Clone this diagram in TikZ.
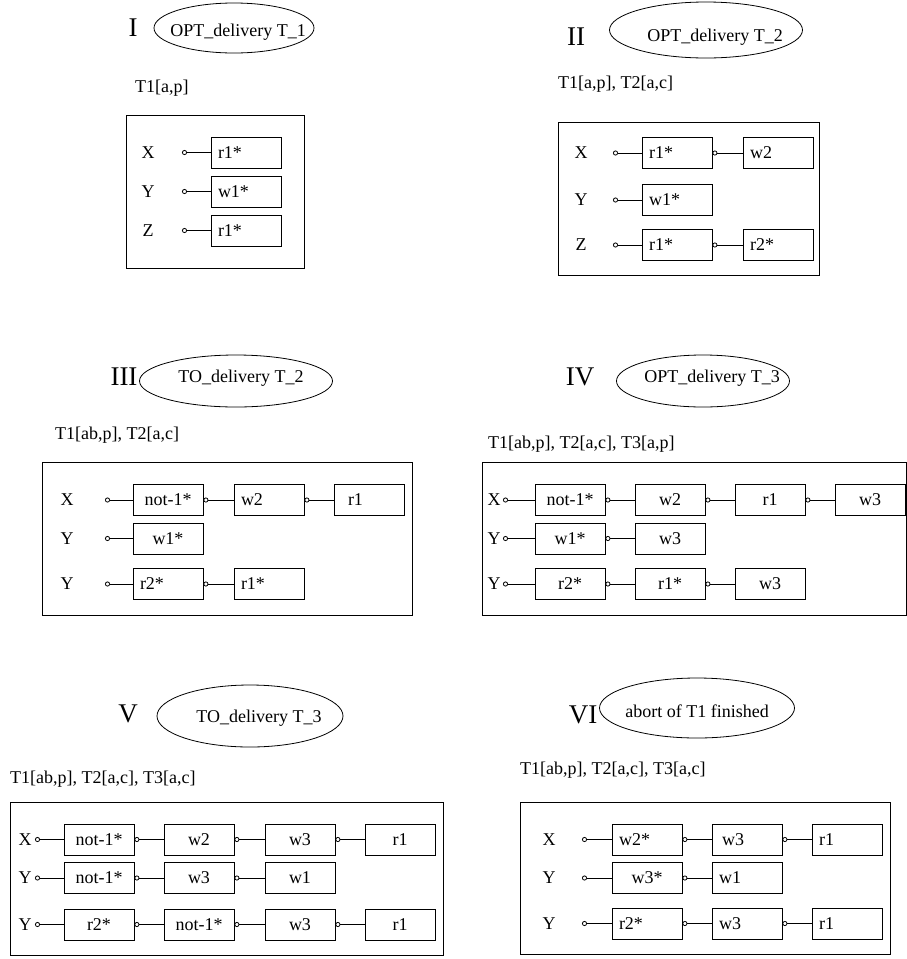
\documentclass[tikz,border=0pt]{standalone}
\usepackage{fontspec}
\setmainfont{Liberation Serif}
\usetikzlibrary{arrows.meta,shapes.geometric}

\tikzset{
  op/.style={draw, line width=0.8pt, minimum width=70pt, minimum height=31pt, inner sep=0pt},
  opl/.style={op, text width=56pt, align=left},
  link/.style={{Circle[open,length=5pt,width=5pt]}-, line width=0.8pt},
  state/.style={draw, ellipse, line width=0.8pt, inner sep=0pt},
  num/.style={font=\fontsize{27}{30}\selectfont},
  hdr/.style={anchor=west, inner sep=0pt},
  frame/.style={line width=0.8pt}
}

\begin{document}
\begin{tikzpicture}[x=1pt, y=-1pt, font=\fontsize{18}{20}\selectfont]
        \useasboundingbox (0,0) rectangle (906,959);

        % I
        \node[num] (n1) at (133,28) {I};
        \node[state, minimum width=160pt, minimum height=50pt] (e1) at (234,28) {};
        \node (t1) at (238,32) {OPT\_delivery T\_1};
        \node[hdr] (h1) at (135,88) {T1[a,p]};
        \draw[frame] (126,115) rectangle (304,268);

        \node (l11) at (148,152.5) {X};
        \node (l12) at (148,191.5) {Y};
        \node (l13) at (148,230.5) {Z};
        \coordinate (s11) at (182,152.5);
        \coordinate (s12) at (182,191.5);
        \coordinate (s13) at (182,230.5);
        \node[opl] (b111) at (246,152.5) {r1*};
        \node[opl] (b121) at (246,191.5) {w1*};
        \node[opl] (b131) at (246,230.5) {r1*};
        \draw[link] (s11) -- (b111);
        \draw[link] (s12) -- (b121);
        \draw[link] (s13) -- (b131);

        % II
        \node[num] (n2) at (576,37) {II};
        \node[state, minimum width=193pt, minimum height=56pt] (e2) at (706,30) {};
        \node (t2) at (715,37) {OPT\_delivery T\_2};
        \node[hdr] (h2) at (558,84) {T1[a,p], T2[a,c]};
        \draw[frame] (558,122) rectangle (819,275);

        \node (l21) at (581,153) {X};
        \node (l22) at (581,200) {Y};
        \node (l23) at (581,245) {Z};
        \coordinate (s21) at (613,153);
        \coordinate (s22) at (613,200);
        \coordinate (s23) at (613,245);
        \node[opl] (b211) at (677,153) {r1*};
        \node[opl] (b212) at (778,153) {w2};
        \node[opl] (b221) at (677,200) {w1*};
        \node[opl] (b231) at (677,245) {r1*};
        \node[opl] (b232) at (778,245) {r2*};
        \draw[link] (s21) -- (b211);
        \draw[link] (b211.east) -- (b212);
        \draw[link] (s22) -- (b221);
        \draw[link] (s23) -- (b231);
        \draw[link] (b231.east) -- (b232);

        % III
        \node[num] (n3) at (124,377) {III};
        \node[state, minimum width=193pt, minimum height=52pt] (e3) at (236,381) {};
        \node (t3) at (241,378) {TO\_delivery T\_2};
        \node[hdr] (h3) at (55,435) {T1[ab,p], T2[a,c]};
        \draw[frame] (42,462) rectangle (412,615);

        \node (l31) at (67,500) {X};
        \node (l32) at (67,538.5) {Y};
        \node (l33) at (67,584) {Y};
        \coordinate (s31) at (105,500);
        \coordinate (s32) at (105,538.5);
        \coordinate (s33) at (105,584);
        \node[op] (b311) at (168,500) {not-1*};
        \node[opl] (b312) at (269,500) {w2};
        \node[opl] (b313) at (369,500) {\hspace*{7pt}r1};
        \node[op] (b321) at (168,538.5) {w1*};
        \node[opl] (b331) at (168,584) {r2*};
        \node[opl] (b332) at (269,584) {r1*};
        \draw[link] (s31) -- (b311);
        \draw[link] (b311.east) -- (b312);
        \draw[link] (b312.east) -- (b313);
        \draw[link] (s32) -- (b321);
        \draw[link] (s33) -- (b331);
        \draw[link] (b331.east) -- (b332);

        % IV
        \node[num] (n4) at (580,377) {IV};
        \node[state, minimum width=173pt, minimum height=52pt] (e4) at (703,381) {};
        \node (t4) at (712,378) {OPT\_delivery T\_3};
        \node[hdr] (h4) at (488,444) {T1[ab,p], T2[a,c], T3[a,p]};
        \draw[frame] (482,462) rectangle (906,615);

        \node (l41) at (494,500) {X};
        \node (l42) at (494,538.5) {Y};
        \node (l43) at (494,584) {Y};
        \coordinate (s41) at (503,500);
        \coordinate (s42) at (503,538.5);
        \coordinate (s43) at (503,584);
        \node[op] (b411) at (570,500) {not-1*};
        \node[op] (b412) at (670,500) {w2};
        \node[op] (b413) at (770,500) {r1};
        \node[op] (b414) at (870,500) {w3};
        \node[op] (b421) at (570,538.5) {w1*};
        \node[op] (b422) at (670,538.5) {w3};
        \node[op] (b431) at (570,584) {r2*};
        \node[op] (b432) at (670,584) {r1*};
        \node[op] (b433) at (770,584) {w3};
        \draw[link] (s41) -- (b411);
        \draw[link] (b411.east) -- (b412);
        \draw[link] (b412.east) -- (b413);
        \draw[link] (b413.east) -- (b414);
        \draw[link] (s42) -- (b421);
        \draw[link] (b421.east) -- (b422);
        \draw[link] (s43) -- (b431);
        \draw[link] (b431.east) -- (b432);
        \draw[link] (b432.east) -- (b433);

        % V
        \node[num] (n5) at (128,714) {V};
        \node[state, minimum width=186pt, minimum height=62pt] (e5) at (250,716) {};
        \node (t5) at (259,718) {TO\_delivery T\_3};
        \node[hdr] (h5) at (10,779) {T1[ab,p], T2[a,c], T3[a,c]};
        \draw[frame] (10,802) rectangle (443,955);

        \node (l51) at (25,839.5) {X};
        \node (l52) at (25,878) {Y};
        \node (l53) at (25,924.5) {Y};
        \coordinate (s51) at (35,839.5);
        \coordinate (s52) at (35,878);
        \coordinate (s53) at (35,924.5);
        \node[op] (b511) at (99,839.5) {not-1*};
        \node[op] (b512) at (199,839.5) {w2};
        \node[op] (b513) at (300,839.5) {w3};
        \node[op] (b514) at (400,839.5) {r1};
        \node[op] (b521) at (99,878) {not-1*};
        \node[op] (b522) at (199,878) {w3};
        \node[op] (b523) at (300,878) {w1};
        \node[op] (b531) at (99,924.5) {r2*};
        \node[op] (b532) at (199,924.5) {not-1*};
        \node[op] (b533) at (300,924.5) {w3};
        \node[op] (b534) at (400,924.5) {r1};
        \draw[link] (s51) -- (b511);
        \draw[link] (b511.east) -- (b512);
        \draw[link] (b512.east) -- (b513);
        \draw[link] (b513.east) -- (b514);
        \draw[link] (s52) -- (b521);
        \draw[link] (b521.east) -- (b522);
        \draw[link] (b522.east) -- (b523);
        \draw[link] (s53) -- (b531);
        \draw[link] (b531.east) -- (b532);
        \draw[link] (b532.east) -- (b533);
        \draw[link] (b533.east) -- (b534);

        % VI
        \node[num] (n6) at (583,715) {VI};
        \node[state, minimum width=195pt, minimum height=60pt] (e6) at (697,708) {};
        \node (t6) at (697,711) {abort of T1 finished};
        \node[hdr] (h6) at (520,770) {T1[ab,p], T2[a,c], T3[a,c]};
        \draw[frame] (520,802) rectangle (890,954);

        \node (l61) at (549,839.5) {X};
        \node (l62) at (549,878) {Y};
        \node (l63) at (549,923.5) {Y};
        \coordinate (s61) at (582,839.5);
        \coordinate (s62) at (582,878);
        \coordinate (s63) at (582,923.5);
        \node[opl] (b611) at (647,839.5) {w2*};
        \node[opl] (b612) at (747,839.5) {\hspace*{3pt}w3};
        \node[opl] (b613) at (847,839.5) {r1};
        \node[op] (b621) at (647,878) {w3*};
        \node[opl] (b622) at (747,878) {w1};
        \node[opl] (b631) at (647,923.5) {r2*};
        \node[opl] (b632) at (747,923.5) {w3};
        \node[opl] (b633) at (847,923.5) {r1};
        \draw[link] (s61) -- (b611);
        \draw[link] (b611.east) -- (b612);
        \draw[link] (b612.east) -- (b613);
        \draw[link] (s62) -- (b621);
        \draw[link] (b621.east) -- (b622);
        \draw[link] (s63) -- (b631);
        \draw[link] (b631.east) -- (b632);
        \draw[link] (b632.east) -- (b633);

\end{tikzpicture}
\end{document}
